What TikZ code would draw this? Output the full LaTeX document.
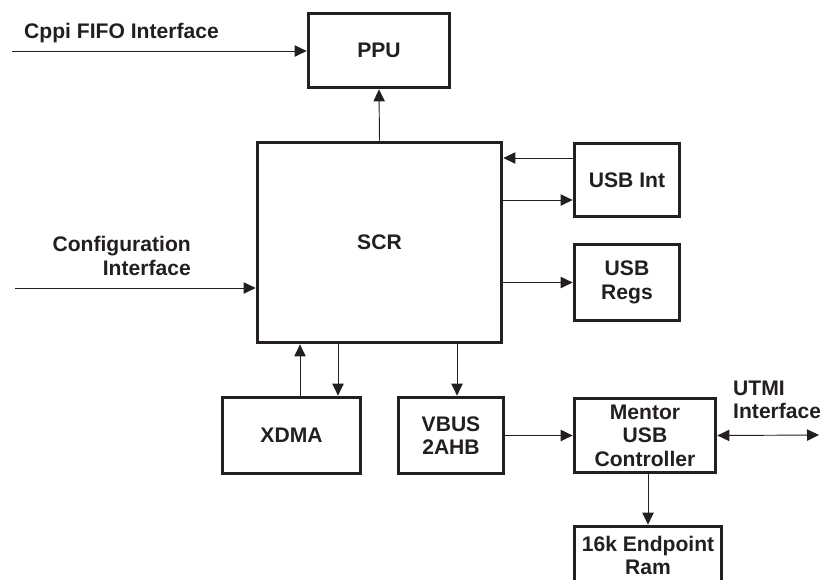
\documentclass[tikz,border=0pt]{standalone}
\usepackage{fontspec}
\setmainfont{Liberation Sans}
\usetikzlibrary{arrows.meta, positioning, calc}
\definecolor{ink}{RGB}{35,31,32}

\begin{document}
\begin{tikzpicture}[
    x=0.03cm, y=-0.03cm,
    font=\fontsize{18}{20}\selectfont\bfseries,
    every node/.style={text=ink},
    block/.style={draw=ink, line width=2.6pt, align=center, inner sep=0pt},
    label/.style={inner sep=0pt},
    arrow/.style={draw=ink, -{Triangle[length=0.36cm, width=0.34cm]}, line width=0.8pt},
    dblarrow/.style={draw=ink, {Triangle[length=0.36cm, width=0.34cm]}-{Triangle[length=0.36cm, width=0.34cm]}, line width=0.8pt}
]

% ---------- frame (pixel units, y down) ----------
\useasboundingbox (0,0) rectangle (820,579);

% ---------- blocks ----------
\node[block, minimum width=4.25cm, minimum height=2.24cm] (ppu) at (379,50.5) {PPU};
\node[block, minimum width=7.34cm, minimum height=6.02cm] (scr) at (379.5,242.5) {SCR};
\node[block, minimum width=3.17cm, minimum height=2.21cm] (usbint) at (627,180) {USB Int};
\node[block, minimum width=3.17cm, minimum height=2.30cm] (usbregs) at (627,282.5) {USB\\Regs};
\node[block, minimum width=4.16cm, minimum height=2.30cm] (xdma) at (291.5,435.5) {XDMA};
\node[block, minimum width=3.17cm, minimum height=2.30cm] (vbus) at (451,435.5) {VBUS\\2AHB};
\node[block, minimum width=4.25cm, minimum height=2.24cm] (mentor) at (645,435.5) {Mentor\\USB\\Controller};
\node[block, minimum width=4.43cm, minimum height=1.76cm] (ram) at (648,555.5) {16k Endpoint\\Ram};

% ---------- interface labels ----------
\node[label, anchor=west] (cppi) at (24,33) {Cppi FIFO Interface};
\node[label, align=right, anchor=east] (cfg) at (191,256) {Configuration\\Interface};
\node[label, align=left, anchor=west] (utmi) at (733,400) {UTMI\\Interface};

% ---------- free ends and offsets ----------
\coordinate (cppiin) at (12,51);
\coordinate (cfgin) at (15,288);
\coordinate (utmiout) at (819,435);
\coordinate (intin) at ([yshift=0.66cm]usbint.west);
\coordinate (intout) at ([yshift=-0.6cm]usbint.west);
\coordinate (xdmaup) at ([xshift=0.255cm]xdma.north);
\coordinate (xdmadn) at ([xshift=1.395cm]xdma.north);
\coordinate (vbusin) at ([xshift=0.18cm]vbus.north);

% ---------- connectors ----------
\draw[arrow] (cppiin) -- (cppiin -| ppu.west);
\draw[arrow] (scr.north) -- (ppu.south);
\draw[arrow] (intin) -- (intin -| scr.east);
\draw[arrow] (intout -| scr.east) -- (intout);
\draw[arrow] (scr.east |- usbregs.west) -- (usbregs.west);
\draw[arrow] (cfgin) -- (cfgin -| scr.west);
\draw[arrow] (xdmaup) -- (xdmaup |- scr.south);
\draw[arrow] (xdmadn |- scr.south) -- (xdmadn);
\draw[arrow] (vbusin |- scr.south) -- (vbusin);
\draw[arrow] (vbus.east) -- (mentor.west);
\draw[dblarrow] (mentor.east) -- (utmiout);
\draw[arrow] (ram.north |- mentor.south) -- (ram.north);

\end{tikzpicture}
\end{document}
